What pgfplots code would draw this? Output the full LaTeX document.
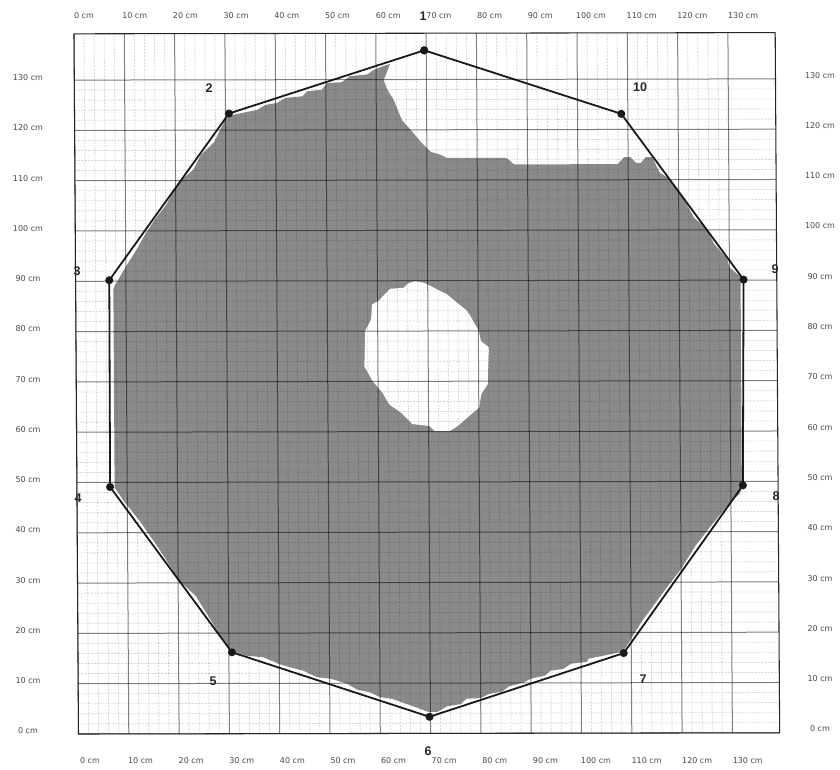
\documentclass[border=0pt]{standalone}
\usepackage{pgfplots}
\pgfplotsset{compat=1.18}
\usepackage{fontspec}
\setmainfont{DejaVu Sans}
\newfontfamily\lb{Liberation Sans}
\definecolor{fillg}{gray}{0.54}
\definecolor{txtg}{gray}{0.28}
\newcommand\lab[3]{\node[font=\lb\bfseries\fontsize{9.4}{10}\selectfont,text=black!85,inner sep=0pt] at ({#1*0.75pt},{(769-#2)*0.75pt}) {#3};}
\pgfplotsset{labelaxis/.style={
  at={(21pt,6pt)},anchor=south west,scale only axis,width=594pt,height=558.75pt,
  axis line style={draw=none},major tick length=0pt,minor tick length=0pt,
  xtick={0,10,20,30,40,50,60,70,80,90,100,110,120,130},
  ytick={0,10,20,30,40,50,60,70,80,90,100,110,120,130},
  xticklabels={0 cm,10 cm,20 cm,30 cm,40 cm,50 cm,60 cm,70 cm,80 cm,90 cm,100 cm,110 cm,120 cm,130 cm},
  yticklabels={0 cm,10 cm,20 cm,30 cm,40 cm,50 cm,60 cm,70 cm,80 cm,90 cm,100 cm,110 cm,120 cm,130 cm},
  tick label style={font=\fontsize{6}{7}\selectfont,text=txtg,anchor=center,inner sep=0pt},
  xticklabel shift=0pt,yticklabel shift=0pt,
}}
\begin{document}
\begin{tikzpicture}
\path[use as bounding box] (0,0) rectangle (630pt,576.75pt);
% tick labels, bottom and left
\begin{axis}[labelaxis,xmin=-12.25,xmax=144.27,ymin=-5.97,ymax=142.3]
\addplot[draw=none] coordinates {(0,0)};
\end{axis}
% tick labels, top and right
\begin{axis}[labelaxis,xticklabel pos=top,yticklabel pos=right,xmin=-11.05,xmax=145.17,ymin=-6.36,ymax=141.75]
\addplot[draw=none] coordinates {(0,0)};
\end{axis}
% main plan
\begin{axis}[
  axis on top,
  at={(55.5pt,26.25pt)},anchor=south west,
  x={(3.7725pt,0.0065pt)},y={(-0.0242pt,3.7725pt)},
  xmin=0,xmax=139.4,ymin=0,ymax=139.2,
  xtick={0,10,...,130},ytick={0,10,...,130},
  minor x tick num=4,minor y tick num=4,
  xticklabels={},yticklabels={},
  major tick length=0pt,minor tick length=0pt,
  grid=both,
  major grid style={black,opacity=0.5,line width=0.75pt},
  minor grid style={black,opacity=0.16,line width=0.6pt,dash pattern=on 1.5pt off 1pt},
  axis line style={black!85,line width=0.8pt},
]
\addplot[fill=fillg,draw=none] coordinates {
(7.5,88.5)(8,89.5)(10,92.9)(12,96)(14,99.5)(16,102.5)(18,105)(20.5,109.5)(23.6,112.2)(25,115)(27.7,117.6)(30,122.2)(31.3,123)(36.3,124)(38,125)(40.3,125.4)(42,126.4)(45.3,126.7)(46.3,127.7)(49.2,128)(50.2,129.3)(53.2,129.5)(54.8,130.7)(58.2,131)(59.5,131.9)(61.5,132.7)(62.8,133.1)
(61.5,129.9)(62.1,128.2)(63.5,125.9)(65.1,121.9)(66.8,120)(68.8,117.6)(70.8,115.6)(72.8,115)(74,114.4)(85.6,114.4)(86.3,114)(87.3,113.1)(107.9,113.1)(109.2,114.5)(110.4,114.5)(111.7,113.3)(112.5,113.3)(113.5,114.5)(114.8,114.5)(116.2,111.5)(118.5,109.9)(120.8,106.6)(123.1,102.3)(125.4,100.5)(127,97.2)(129.6,94.2)(130,92.5)(132.2,90.7)
(132.2,49.5)(131.8,47.6)(129.5,45.4)(126.5,41.8)(122.9,37.2)(120,32.6)(116,27.4)(112,22)(109.3,17.6)(108.4,16.2)(105,15.5)(101.5,14.8)(101.2,14.2)(98,13.8)(96.5,12.8)(93.9,12.4)(92.9,11.5)(89.9,10.8)(88.6,10.1)(85.6,9.3)(84.3,8.3)(81.6,7.8)(80,7)(77.2,6.9)(76,5.8)(73.4,5.4)(71.4,4.3)(69.5,4.3)
(68.7,4.6)(66,5.6)(62.3,6.9)(60,7.2)(58,8.2)(55.5,8.7)(53.5,9.9)(50.2,10.9)(47.5,11.2)(44.8,12.5)(42.1,13.2)(40.1,13.8)(36.8,15.2)(33.4,15.5)(31.4,16.2)(30.1,17.2)(28.1,19.8)(26.5,22.5)(23.5,27.4)(20.3,30.4)(16.3,36.7)(12.7,42)(9.3,46.3)(7.5,49)
} -- cycle;
\addplot[fill=white,draw=none] coordinates {
(67.5,89.9)(66.2,89.5)(65.2,88.6)(62.5,88.4)(60.2,86)(58.9,85.3)(58.7,82.3)(57.5,80)(57.3,73)(58.9,70.1)(60.9,67.7)(62.2,65.4)(64.5,63.8)(66.8,61.5)(70.2,61.1)(71.2,60.1)(74.2,60.1)(75.8,61.1)(78.1,63.1)(80.1,64.8)(80.5,67.4)(81.8,69.4)(82.1,76.7)(80.5,78)(80.1,80)(78.8,82.3)(77.8,84)(75.8,85.6)(73.8,87.3)(71.8,88.3)(69.2,89.6)
} -- cycle;
\addplot[black!90,line width=1.35pt,mark=*,mark size=2.3pt,mark options={fill=black!90,draw=none}] coordinates {
(69.6,135.8)(30.7,123.3)(6.7,90.2)(6.6,49.1)(30.6,16.2)(69.8,3.3)(108.5,15.9)(132.4,49.2)(132.8,90.1)(108.7,123.1)(69.6,135.8)
};
\end{axis}
\lab{423}{16}{1}
\lab{209}{88}{2}
\lab{77}{271}{3}
\lab{78}{498}{4}
\lab{213}{681}{5}
\lab{428}{751}{6}
\lab{643}{679}{7}
\lab{776}{496}{8}
\lab{775}{269}{9}
\lab{640}{87}{10}
\end{tikzpicture}
\end{document}
